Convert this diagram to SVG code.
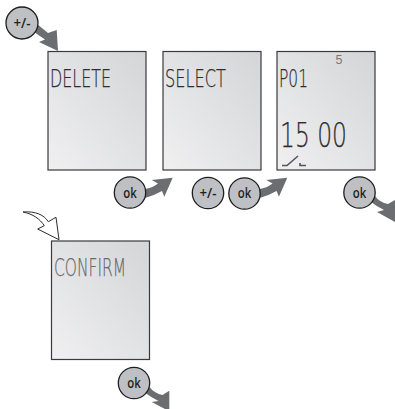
<svg xmlns="http://www.w3.org/2000/svg" width="395" height="409" viewBox="0 0 395 409">
<style>
.screen{fill:url(#lcd);stroke:#3a3a3c;stroke-width:1.2}
.lcd{font-family:"DejaVu Sans","Liberation Sans",sans-serif;font-weight:200;font-size:24px;fill:#2b2b2d;stroke:#2b2b2d;stroke-width:.25;opacity:.99}
.btn{fill:#bfc0c3;stroke:#1e1e20;stroke-width:1.3}
.btxt{font-family:"Open Sans","Liberation Sans",sans-serif;font-weight:600;font-size:14px;fill:#1e1e20;text-anchor:middle;opacity:.99}
.arrow{fill:#6c6d70}
</style>
<defs>
<linearGradient id="lcd" x1="0" y1="1" x2="1" y2="0">
<stop offset="0" stop-color="#f0f0f1"/><stop offset="1" stop-color="#d4d5d7"/>
</linearGradient>
</defs>
<g id="connectors">
<path class="arrow" d="M37,24L48,33L56.700,30L58,51L39,42L45,39.500L34,32Z"/>
<path class="arrow" d="M145,189Q152,188 158,183.500L151.700,180L172.700,177.700L164.300,196.700L162,191Q153,196 145,198Z"/>
<path class="arrow" d="M259.600,189Q266.600,188 272.600,183.500L266.300,180L287.300,177.700L278.900,196.700L276.600,191Q267.600,196 259.600,198Z"/>
<path class="arrow" d="M374,195Q380,203 388,204L395,200V222L377,212L384,210Q376,206 371,202Z"/>
<path class="arrow" d="M148.500,386Q155,394 162.500,395L169.300,390.700V409H165L151.700,402L158.500,401Q150.500,397 145.500,393Z"/>
<path d="M23,212C36,211 44,215 48.300,221.700L56,217.300L59,239.700L37.700,229L44.300,225.700C40,219 33,214 23,212Z" fill="#fff" stroke="#2b2b2d" stroke-width="1"/>
</g>
<g id="node-delete">
<rect class="screen" x="48" y="51.500" width="98" height="118.500"/>
<text class="lcd" x="50" y="87" textLength="61" lengthAdjust="spacingAndGlyphs">DELETE</text>
</g>
<g id="node-select">
<rect class="screen" x="163" y="51.500" width="98" height="118.500"/>
<text class="lcd" x="165" y="87" textLength="61" lengthAdjust="spacingAndGlyphs">SELECT</text>
</g>
<g id="node-p01">
<rect class="screen" x="277" y="51.500" width="98" height="118.500"/>
<text x="339" y="64" font-family="Liberation Sans,sans-serif" font-size="12.500" fill="#77787a" text-anchor="middle">5</text>
<text class="lcd" x="279" y="87" textLength="29" lengthAdjust="spacingAndGlyphs">P01</text>
<text class="lcd" x="280" y="147" textLength="67" lengthAdjust="spacingAndGlyphs" style="font-size:33px">15 00</text>
<path d="M282,165.500H287L298,156M300,163V165.500H306" fill="none" stroke="#55565a" stroke-width="1.600"/>
</g>
<g id="node-confirm">
<rect class="screen" x="51.500" y="241" width="98" height="118.500"/>
<text class="lcd" x="54" y="276" textLength="72" lengthAdjust="spacingAndGlyphs" style="fill:#68696c;stroke:#68696c">CONFIRM</text>
</g>
<g id="btn-plusminus-1"><circle class="btn" cx="22" cy="23" r="16"/><text class="btxt" x="22" y="28" textLength="17" lengthAdjust="spacingAndGlyphs">+/-</text></g>
<g id="btn-ok-1"><circle class="btn" cx="130" cy="192.500" r="15.700"/><text class="btxt" x="130" y="197.500" textLength="13.500" lengthAdjust="spacingAndGlyphs">ok</text></g>
<g id="btn-plusminus-2"><circle class="btn" cx="208" cy="193" r="15.700"/><text class="btxt" x="208" y="198" textLength="17" lengthAdjust="spacingAndGlyphs">+/-</text></g>
<g id="btn-ok-2"><circle class="btn" cx="244.500" cy="193.500" r="15.700"/><text class="btxt" x="244.500" y="198" textLength="13.500" lengthAdjust="spacingAndGlyphs">ok</text></g>
<g id="btn-ok-3"><circle class="btn" cx="359.500" cy="192.500" r="15.700"/><text class="btxt" x="359.500" y="197.500" textLength="13.500" lengthAdjust="spacingAndGlyphs">ok</text></g>
<g id="btn-ok-4"><circle class="btn" cx="134" cy="383" r="15.700"/><text class="btxt" x="134" y="387.500" textLength="13.500" lengthAdjust="spacingAndGlyphs">ok</text></g>
</svg>
